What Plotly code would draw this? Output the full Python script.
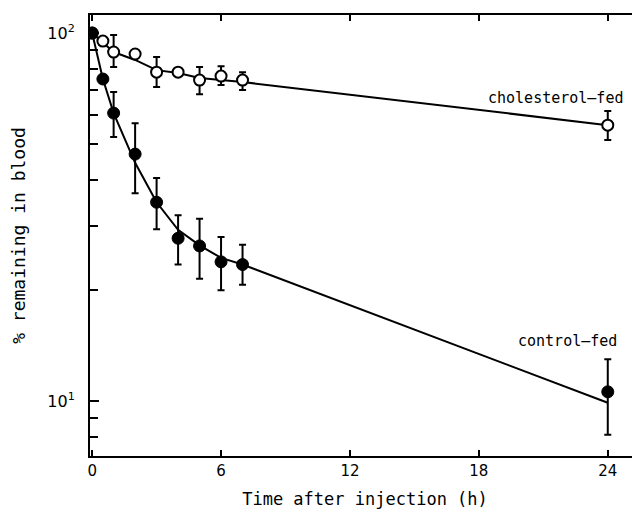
import math
import plotly.graph_objects as go

# ---- data ----
time_h = [0, 0.5, 1, 2, 3, 4, 5, 6, 7, 24]

control_pct = [100, 75, 60.6, 46.9, 34.7, 27.7, 26.4, 23.9, 23.5, 10.6]
control_hi = [100, 75, 69.2, 56.9, 40.4, 32.0, 31.3, 27.9, 26.6, 13.0]
control_lo = [100, 75, 52.2, 36.7, 29.3, 23.5, 21.5, 20.0, 20.7, 8.1]

chol_pct = [100, 95.1, 88.8, 87.7, 78.3, 78.3, 74.5, 76.4, 74.5, 56.2]
chol_hi = [100, 95.1, 98.8, 87.7, 86.1, 78.3, 80.8, 81.3, 78.3, 61.4]
chol_lo = [100, 95.1, 80.8, 87.7, 71.3, 78.3, 68.2, 72.2, 70.0, 51.2]

# fitted curves
control_fit_t = [0, 0.5, 1, 1.5, 2, 3, 4, 5, 6, 7, 24]
control_fit_y = [100, 75, 60.6, 52, 44.4, 34.7, 29.2, 26.5, 24.5, 23.5, 9.9]
chol_fit_t = [0, 0.5, 1, 2, 3, 4, 5, 6, 7, 24]
chol_fit_y = [100, 94.5, 88.8, 84.5, 79.3, 77.9, 75.5, 74.5, 73.6, 56.2]

x_ticks = [0, 6, 12, 18, 24]
y_ticks = [10, 100]
y_ticktext = ["10<sup>1</sup>", "10<sup>2</sup>"]
y_minor = [8, 9, 20, 30, 40, 50, 60, 70, 80, 90]

FONT = "DejaVu Sans"
MONO = "DejaVu Sans Mono"

def up(v, hi):
    return [h - a for a, h in zip(v, hi)]

def dn(v, lo):
    return [a - l for a, l in zip(v, lo)]

fig = go.Figure()

fig.add_trace(go.Scatter(x=chol_fit_t, y=chol_fit_y, mode="lines",
                         line=dict(color="black", width=2), hoverinfo="skip", showlegend=False))
fig.add_trace(go.Scatter(x=control_fit_t, y=control_fit_y, mode="lines",
                         line=dict(color="black", width=2), hoverinfo="skip", showlegend=False))

fig.add_trace(go.Scatter(
    x=time_h, y=chol_pct, mode="markers", name="cholesterol-fed",
    marker=dict(symbol="circle", size=11, color="white", line=dict(color="black", width=2)),
    error_y=dict(type="data", symmetric=False, array=up(chol_pct, chol_hi),
                 arrayminus=dn(chol_pct, chol_lo), color="black", thickness=2, width=3.5),
    showlegend=False))

fig.add_trace(go.Scatter(
    x=time_h, y=control_pct, mode="markers", name="control-fed",
    marker=dict(symbol="circle", size=12, color="black", line=dict(color="black", width=1)),
    error_y=dict(type="data", symmetric=False, array=up(control_pct, control_hi),
                 arrayminus=dn(control_pct, control_lo), color="black", thickness=2, width=3.5),
    showlegend=False))

# invisible helper trace so the right-hand tick axis is drawn
fig.add_trace(go.Scatter(x=[None], y=[None], yaxis="y2", mode="markers",
                         showlegend=False, hoverinfo="skip"))

fig.add_annotation(x=24.8, y=math.log10(66.6), text="cholesterol–fed", showarrow=False,
                   xanchor="right", yanchor="middle", font=dict(family=MONO, size=15, color="black"))
fig.add_annotation(x=24.5, y=math.log10(14.6), text="control–fed", showarrow=False,
                   xanchor="right", yanchor="middle", font=dict(family=MONO, size=15, color="black"))

yr = [0.851, 2.049]

# page body has an 8px margin, so the figure is 632x508 placed at (8, 8)
fig.update_layout(
    width=632, height=508,
    margin=dict(l=82, r=0, t=7, b=60),
    paper_bgcolor="white", plot_bgcolor="white",
    font=dict(family=FONT, color="black", size=15),
    xaxis=dict(range=[-0.1, 25.5], tickvals=x_ticks, ticks="inside", ticklen=6,
               tickwidth=2, tickcolor="black", showline=True, linewidth=2, linecolor="black",
               mirror="ticks", showgrid=False, zeroline=False, automargin=False,
               tickfont=dict(family=FONT, size=15),
               title=dict(text="Time after injection (h)", font=dict(family=MONO, size=17), standoff=14)),
    yaxis=dict(type="log", range=yr, tickvals=y_ticks, ticktext=y_ticktext,
               ticks="inside", ticklen=9, tickwidth=2, tickcolor="black", automargin=False,
               showline=True, linewidth=2, linecolor="black", showgrid=False, zeroline=False,
               ticklabelstandoff=10, tickfont=dict(family=FONT, size=16),
               minor=dict(tickvals=y_minor, ticks="inside", ticklen=8, tickwidth=2,
                          tickcolor="black", showgrid=False),
               title=dict(text="% remaining in blood", font=dict(family=MONO, size=18), standoff=20)),
    yaxis2=dict(type="log", range=yr, overlaying="y", side="right", anchor="x",
                tickvals=y_ticks, ticks="inside", ticklen=5, tickwidth=2, tickcolor="black",
                showticklabels=False, showline=False, showgrid=False, zeroline=False,
                automargin=False,
                minor=dict(tickvals=y_minor, ticks="inside", ticklen=5, tickwidth=2,
                           tickcolor="black", showgrid=False)),
)

fig.write_html("out.html")
